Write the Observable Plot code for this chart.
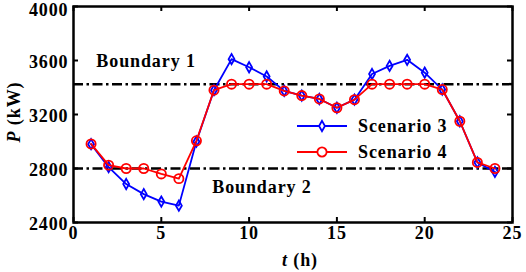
<!DOCTYPE html>
<html><head><meta charset="utf-8">
<script src="https://cdn.jsdelivr.net/npm/d3@7"></script>
<script src="https://cdn.jsdelivr.net/npm/@observablehq/plot@0.6"></script>
<style>body{margin:0;background:#fff}</style>
</head><body><div id="chart"></div>
<script>
const hours = [1,2,3,4,5,6,7,8,9,10,11,12,13,14,15,16,17,18,19,20,21,22,23,24];
const scenario3 = [2980,2810,2685,2610,2555,2525,3000,3380,3610,3550,3482,3375,3340,3315,3250,3310,3500,3560,3605,3510,3385,3150,2845,2775];
const scenario4 = [2982,2825,2800,2800,2760,2725,3005,3380,3425,3425,3425,3375,3340,3315,3250,3310,3425,3425,3425,3425,3385,3150,2845,2800];
const boundaryNames = ["Boundary 1","Boundary 2"];
const boundaryValues = [3425, 2800];
const seriesNames = ["Scenario 3","Scenario 4"];
const seriesColors = ["#0000ff","#ff0000"];
const xTicks = [0,5,10,15,20,25];
const yTicks = [2400,2800,3200,3600,4000];
const labelT = [1.3, 7.9];
const labelP = [3598, 2662];

const W = 526, H = 272, mL = 73, mR = 14, mT = 6, mB = 50;
const innerW = W - mL - mR, innerH = H - mT - mB;

const s3 = hours.map((t,i)=>({t, p: scenario3[i]}));
const s4 = hours.map((t,i)=>({t, p: scenario4[i]}));
const bounds = boundaryNames.map((n,i)=>({name:n, value:boundaryValues[i], t:labelT[i], p:labelP[i]}));
const dash = "10,3.5,2.5,3.5";
const yTop = yTicks[yTicks.length-1];

const plot = Plot.plot({
  width: W, height: H,
  marginLeft: mL, marginRight: mR, marginTop: mT, marginBottom: mB,
  style: {fontFamily: "'Liberation Serif', 'Times New Roman', serif", fontSize: "18px", fontWeight: "bold", letterSpacing: "0.9px", color: "black", background: "white"},
  x: {domain: [0,25]},
  y: {domain: [2400,4000]},
  marks: [
    Plot.ruleY(bounds, {y: "value", stroke: "black", strokeWidth: 2.5, strokeDasharray: dash}),
    Plot.text(bounds, {x: "t", y: "p", text: "name", textAnchor: "start", fill: "black"}),
    Plot.line(s3, {x: "t", y: "p", stroke: seriesColors[0], strokeWidth: 1.8}),
    Plot.dot(s3, {x: "t", y: "p", symbol: "diamond", r: 3.1, stroke: seriesColors[0], strokeWidth: 1.8, fill: "none"}),
    Plot.line(s4, {x: "t", y: "p", stroke: seriesColors[1], strokeWidth: 1.8}),
    Plot.dot(s4, {x: "t", y: "p", symbol: "circle", r: 4.6, stroke: seriesColors[1], strokeWidth: 1.8, fill: "none"}),
    Plot.tickX(xTicks, {x: d=>d, insetTop: innerH-5, stroke: "black", strokeWidth: 2}),
    Plot.tickX(xTicks, {x: d=>d, insetBottom: innerH-5, stroke: "black", strokeWidth: 2}),
    Plot.tickY(yTicks, {y: d=>d, insetRight: innerW-5, stroke: "black", strokeWidth: 2}),
    Plot.tickY(yTicks, {y: d=>d, insetLeft: innerW-5, stroke: "black", strokeWidth: 2}),
    Plot.axisX({ticks: xTicks, tickSize: 0, tickPadding: 4, label: null, tickFormat: d=>String(d)}),
    Plot.axisY({ticks: yTicks.filter(d=>d!==yTop), tickSize: 0, tickPadding: 5, dy: 1.5, label: null, tickFormat: d=>String(d)}),
    Plot.axisY({ticks: [yTop], tickSize: 0, tickPadding: 5, dy: 3.5, label: null, tickFormat: d=>String(d)}),
    Plot.frame({stroke: "black", strokeWidth: 2.5})
  ]
});
document.getElementById("chart").appendChild(plot);

const svg = d3.select(plot);
// axis titles
const yl = svg.append("text").attr("transform", "translate(20,112) rotate(-90)")
  .attr("text-anchor", "middle").attr("fill", "black");
yl.append("tspan").attr("font-style", "italic").text("P");
yl.append("tspan").text(" (kW)");
const xl = svg.append("text").attr("x", 300).attr("y", 266)
  .attr("text-anchor", "middle").attr("fill", "black");
xl.append("tspan").attr("font-style", "italic").text("t");
xl.append("tspan").text(" (h)");

// legend
const lg = svg.append("g").attr("text-anchor", "start");
const sym = [d3.symbol(d3.symbolDiamond, Math.PI*3.1*3.1), d3.symbol(d3.symbolCircle, Math.PI*4.6*4.6)];
seriesNames.forEach((name, i) => {
  const y = 126 + i*26;
  lg.append("line").attr("x1", 297).attr("x2", 347).attr("y1", y).attr("y2", y)
    .attr("stroke", seriesColors[i]).attr("stroke-width", 1.8);
  lg.append("path").attr("d", sym[i]()).attr("transform", `translate(322,${y})`)
    .attr("fill", "white").attr("stroke", seriesColors[i]).attr("stroke-width", 1.8);
  lg.append("text").attr("x", 358).attr("y", y).attr("dy", "0.35em")
    .attr("text-anchor", "start").attr("fill", "black").text(name);
});
</script></body></html>
